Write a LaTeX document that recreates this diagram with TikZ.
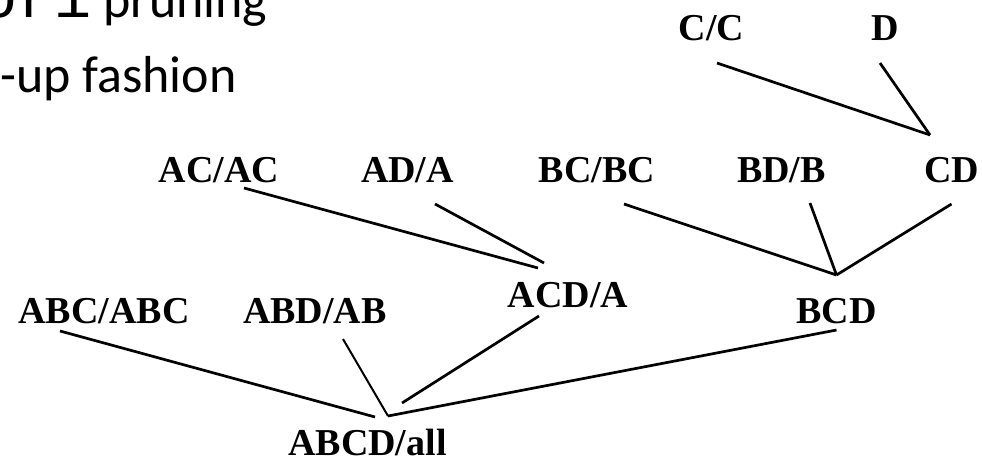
\documentclass[tikz,border=0pt]{standalone}
\usepackage{fontspec}
\setmainfont{Liberation Serif}
\newfontfamily\bulletfont{Carlito}
\newfontfamily\codefont{Liberation Mono}
\begin{document}
\begin{tikzpicture}[x=1pt,y=-1pt,
  lbl/.style={font=\fontsize{38}{40}\selectfont\bfseries,inner sep=0pt,anchor=base},
  txt/.style={font=\fontsize{52}{60}\selectfont\bulletfont,inner sep=0pt,anchor=base west},
  edge/.style={line width=2.7pt},
  thinedge/.style={line width=2pt}]
\useasboundingbox (0,0) rectangle (982,466);
\clip (0,0) rectangle (982,466);
\node[txt] (line1) at (-20,17) {{\codefont\fontsize{62}{60}\selectfont ori} pruning};
\node[txt] (line2) at (0,92) {-up fashion};
\node[lbl] (cc) at (711.5,40) {C/C};
\node[lbl] (d) at (885.5,40) {D};
\node[lbl] (acac) at (219,182) {AC/AC};
\node[lbl] (ada) at (407.5,182) {AD/A};
\node[lbl] (bcbc) at (597,182) {BC/BC};
\node[lbl] (bdb) at (781.5,182) {BD/B};
\node[lbl] (cd) at (951.5,182) {CD};
\node[lbl] (acda) at (568,307) {ACD/A};
\node[lbl] (abcabc) at (104,323) {ABC/ABC};
\node[lbl] (abdab) at (315,323) {ABD/AB};
\node[lbl] (bcd) at (836.5,323) {BCD};
\node[lbl] (abcdall) at (367.5,455) {ABCD/all};
\draw[edge] ([shift={(5.5,23)}]cc.base) -- ([shift={(-21.5,-47)}]cd.base);
\draw[edge] ([shift={(-5.5,23)}]d.base) -- ([shift={(-21.5,-47)}]cd.base);
\draw[edge] ([shift={(25,6)}]acac.base) -- ([shift={(-30,-39)}]acda.base);
\draw[edge] ([shift={(27.5,22)}]ada.base) -- ([shift={(-24,-44)}]acda.base);
\draw[edge] ([shift={(27,22)}]bcbc.base) -- ([shift={(0,-48)}]bcd.base);
\draw[edge] ([shift={(28.5,21)}]bdb.base) -- ([shift={(0,-48)}]bcd.base);
\draw[edge] ([shift={(0,22)}]cd.base) -- ([shift={(0,-48)}]bcd.base);
\draw[edge] ([shift={(-44,8)}]abcabc.base) -- ([shift={(7.5,-38)}]abcdall.base);
\draw[thinedge] ([shift={(28,16)}]abdab.base) -- ([shift={(20.5,-39)}]abcdall.base);
\draw[edge] ([shift={(-29,9)}]acda.base) -- ([shift={(34.5,-52)}]abcdall.base);
\draw[edge] ([shift={(0,7)}]bcd.base) -- ([shift={(20.5,-39)}]abcdall.base);
\end{tikzpicture}
\end{document}
